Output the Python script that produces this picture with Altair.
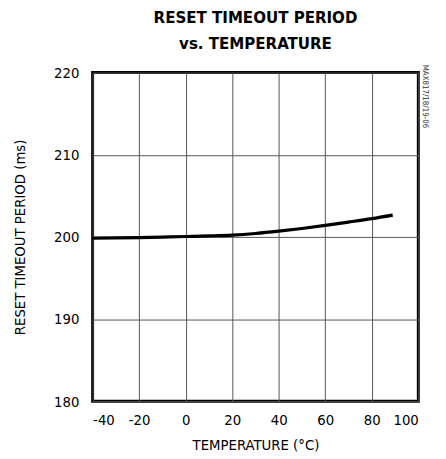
import altair as alt
import pandas as pd

temps = [-40, -30, -20, -10, 0, 10, 20, 30, 40, 50, 60, 70, 80, 89]
period = [199.85, 199.88, 199.92, 199.98, 200.05, 200.12, 200.22, 200.42,
          200.7, 201.03, 201.4, 201.8, 202.22, 202.65]

x_ticks = [-40, -20, 0, 20, 40, 60, 80, 100]
y_ticks = [180, 190, 200, 210, 220]

df = pd.DataFrame({"t": temps, "p": period})
FONT = "DejaVu Sans Condensed, Liberation Sans, sans-serif"

line = alt.Chart(df).mark_line(color="black", strokeWidth=3.2, interpolate="monotone").encode(
    x=alt.X("t:Q", scale=alt.Scale(domain=[-40, 100], nice=False),
            axis=alt.Axis(values=x_ticks, title="TEMPERATURE (°C)", grid=True,
                          labelExpr="'' + datum.value",
                          gridColor="#555", gridWidth=1, domain=False, ticks=False,
                          labelPadding=12, labelFontSize=15, titleFontSize=15,
                          titleFontWeight="normal", titlePadding=10,
                          labelFont=FONT, titleFont=FONT, labelColor="black", titleColor="black")),
    y=alt.Y("p:Q", scale=alt.Scale(domain=[180, 220], nice=False),
            axis=alt.Axis(values=y_ticks, title="RESET TIMEOUT PERIOD (ms)", grid=True,
                          gridColor="#555", gridWidth=1, domain=False, ticks=False,
                          labelPadding=14, labelFontSize=15, titleFontSize=15,
                          titleFontWeight="normal", titlePadding=26,
                          labelFont=FONT, titleFont=FONT, labelColor="black", titleColor="black")),
)

note = alt.Chart(pd.DataFrame({"s": ["MAX817/18/19-06"]})).mark_text(
    angle=90, fontSize=8, font=FONT, align="left", baseline="middle", color="#333"
).encode(text="s:N", x=alt.value(338), y=alt.value(-8))

chart = alt.layer(line, note).properties(
    width=331, height=334,
    title=alt.Title(["RESET TIMEOUT PERIOD", "vs. TEMPERATURE"], font=FONT, fontSize=17,
                    fontWeight="bold", color="black", anchor="middle", offset=12, lineHeight=26),
    autosize="none",
    padding={"left": 86, "top": 62, "right": 20, "bottom": 50},
).configure_view(stroke="black", strokeWidth=3)

chart.save("out.html", embed_options={"renderer": "svg", "actions": False})
